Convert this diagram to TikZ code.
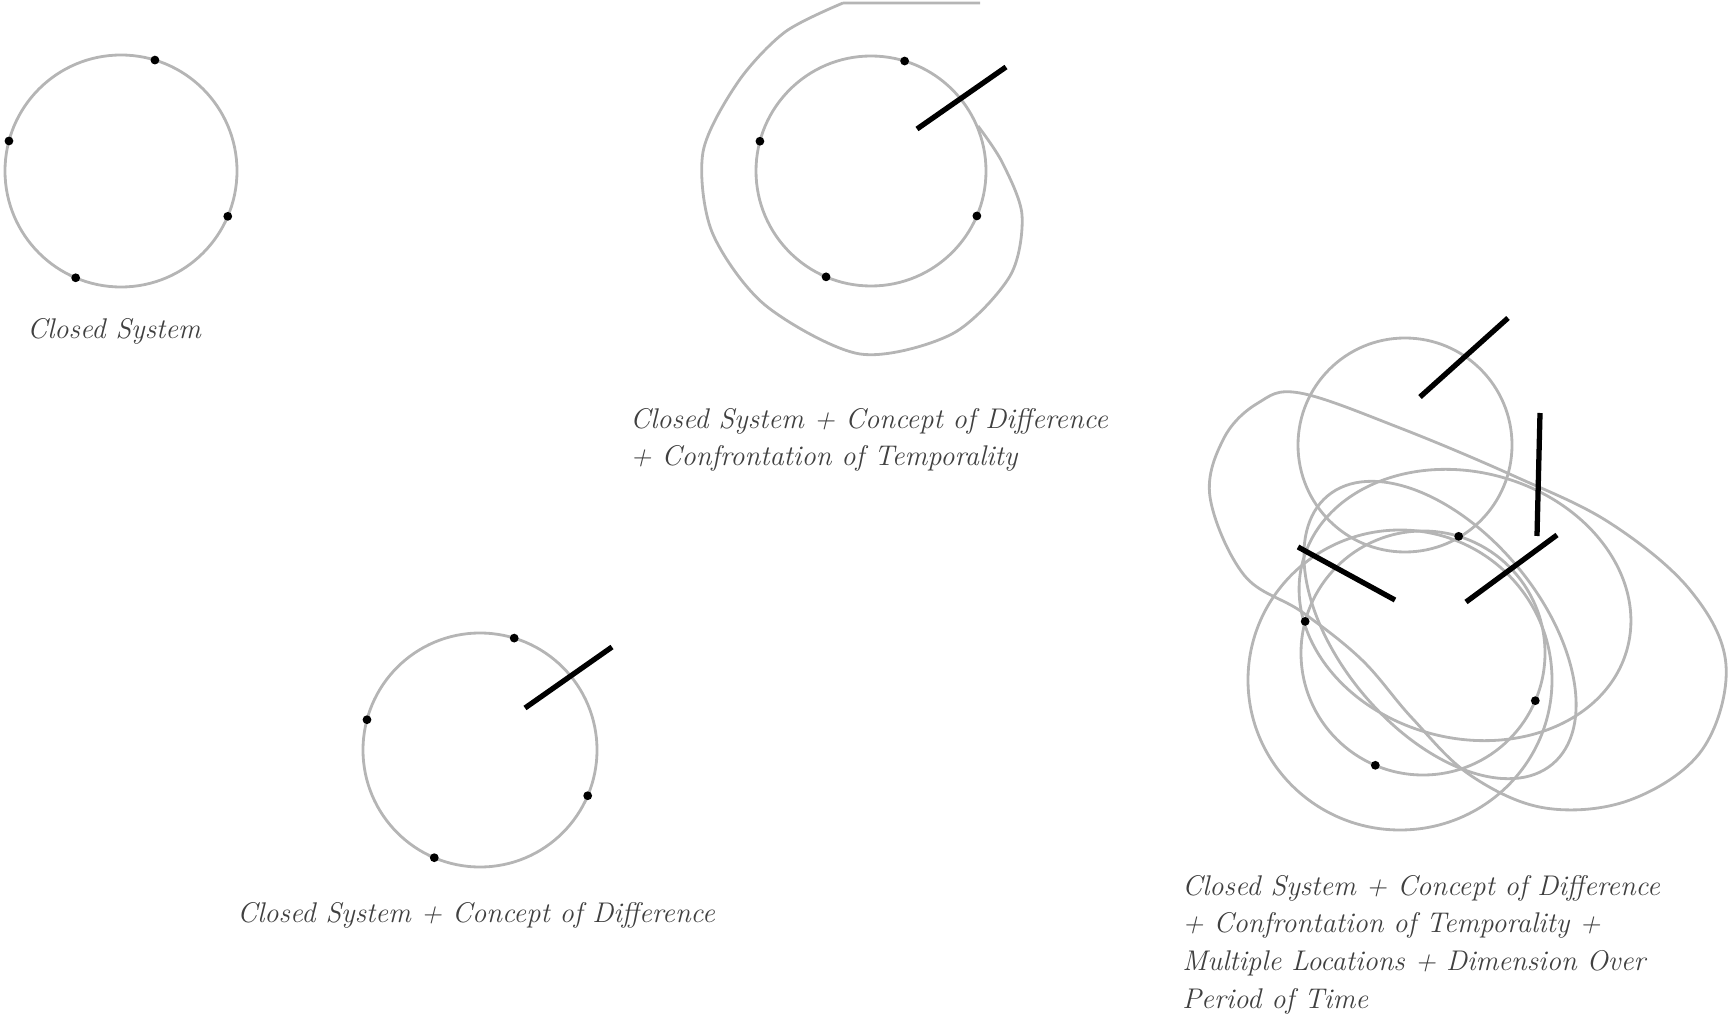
\documentclass[tikz,border=0pt]{standalone}
\usetikzlibrary{calc}

\begin{document}
\begin{tikzpicture}[
    x=0.02cm, y=-0.02cm,
    ring/.style={draw=gray!58, line width=1.6pt},
    hand/.style={draw=black, line width=3pt},
    sysdot/.style={fill=black, circle, inner sep=0pt, minimum size=5pt},
    caption/.style={font=\fontsize{16.2}{21.4}\selectfont\itshape, text=black!75, inner sep=0pt, align=left}
]
\useasboundingbox (0,0) rectangle (1731,1016);

% closed system
\coordinate (sysA) at (121,171);
\draw[ring] (sysA) circle [radius=116];
\foreach \a in {-73,-165,23,113}
    \node[sysdot] at ($(sysA)+(\a:116)$) {};
\node[caption, anchor=base west] (capA) at (27,339) {Closed System};

% + difference + temporality
\coordinate (sysB) at (871,171);
\draw[ring] (sysB) circle [radius=115];
\foreach \a in {-73,-165,23,113}
    \node[sysdot] at ($(sysB)+(\a:115)$) {};
\coordinate (handB0) at ($(sysB)+(46,-42)$);
\coordinate (handB1) at ($(sysB)+(135,-104)$);
\draw[hand] (handB0) -- (handB1);
\draw[ring] (980,3) -- (843,3)
    plot[smooth] coordinates {(843,3) (785,32) (738,82) (703,152) (712,232)
        (765,305) (860,354) (952,334) (1010,276) (1022,215) (1002,162) (978,126)};
\node[caption, anchor=north west] (capB) at (630,408)
    {Closed System + Concept of Difference\\+ Confrontation of Temporality};

% + difference
\coordinate (sysC) at (480,750);
\draw[ring] (sysC) circle [radius=117];
\foreach \a in {-73,-165,23,113}
    \node[sysdot] at ($(sysC)+(\a:117)$) {};
\coordinate (handC0) at ($(sysC)+(45,-42)$);
\coordinate (handC1) at ($(sysC)+(132,-103)$);
\draw[hand] (handC0) -- (handC1);
\node[caption, anchor=base west] (capC) at (237,922) {Closed System + Concept of Difference};

% multiple locations
\coordinate (sysD) at (1423,653);
\draw[ring] (1405,445) circle [radius=107];
\draw[ring] plot[smooth cycle, tension=0.6] coordinates {(1210,497) (1224,438) (1258,403) (1300,393)
    (1400,428) (1514,476) (1610,523) (1690,590) (1726,665) (1702,750) (1630,800) (1545,808)
    (1470,775) (1412,718) (1362,660) (1302,612) (1244,575)};
\draw[ring, rotate around={-15:(1465,605)}] (1465,605) ellipse [x radius=168, y radius=133];
\draw[ring] (1400,680) ellipse [x radius=152, y radius=150];
\draw[ring, rotate around={-50:(1440,630)}] (1440,630) ellipse [x radius=175, y radius=100];
\draw[ring] (sysD) circle [radius=122];
\foreach \a in {-73,-165,23,113}
    \node[sysdot] at ($(sysD)+(\a:122)$) {};
\draw[hand] (1420,397) -- (1508,318);
\draw[hand] (1537,536) -- (1540,413);
\draw[hand] (1395,600) -- (1298,547);
\draw[hand] (1466,602) -- (1557,535);
\node[caption, anchor=north west] (capD) at (1182,875)
    {Closed System + Concept of Difference\\+ Confrontation of Temporality +\\Multiple Locations + Dimension Over\\Period of Time};
\end{tikzpicture}
\end{document}
